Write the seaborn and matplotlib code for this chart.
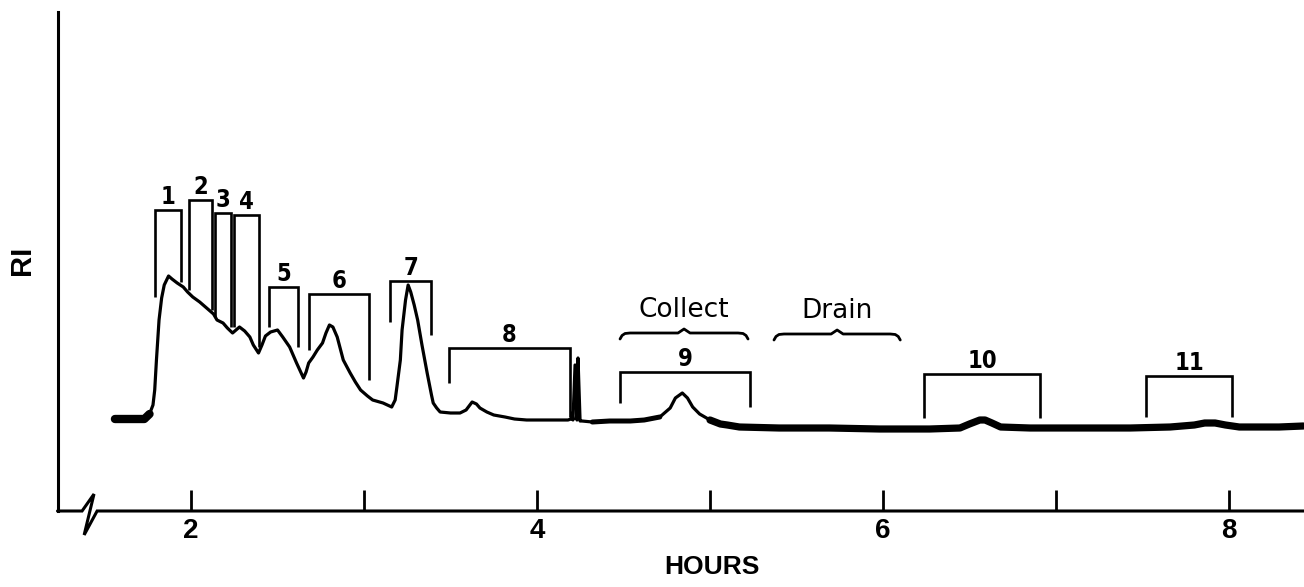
import numpy as np
import pandas as pd
import matplotlib
matplotlib.use("Agg")
import matplotlib.pyplot as plt
import matplotlib.transforms as mtransforms
from matplotlib import font_manager
import seaborn as sns

# Refractive-index detector trace: elapsed time (hours) and response (arbitrary units)
hours = [1.56, 1.65, 1.73, 1.76, 1.78, 1.79, 1.80, 1.815, 1.83, 1.845,
         1.87, 1.89, 1.92, 1.955, 1.98, 2.01, 2.05, 2.09, 2.13, 2.15,
         2.185, 2.21, 2.24, 2.26, 2.28, 2.31, 2.34, 2.36, 2.39, 2.41,
         2.43, 2.46, 2.50, 2.53, 2.57, 2.61, 2.65, 2.665, 2.68, 2.705,
         2.73, 2.76, 2.78, 2.80, 2.82, 2.845, 2.88, 2.92, 2.95, 2.98,
         3.02, 3.05, 3.11, 3.16, 3.18, 3.19, 3.21, 3.22, 3.24, 3.255,
         3.27, 3.29, 3.31, 3.335, 3.365, 3.39, 3.40, 3.42, 3.44, 3.50,
         3.555, 3.59, 3.625, 3.65, 3.67, 3.71, 3.75, 3.815, 3.87, 3.94,
         4.05, 4.13, 4.179, 4.197, 4.202, 4.208, 4.220, 4.231, 4.237, 4.249,
         4.260, 4.32, 4.42, 4.54, 4.62, 4.71, 4.77, 4.80, 4.84, 4.87,
         4.90, 4.94, 5.00, 5.06, 5.10, 5.17, 5.40, 5.69, 5.98, 6.27,
         6.445, 6.50, 6.56, 6.59, 6.63, 6.68, 6.85, 7.14, 7.43, 7.66,
         7.80, 7.86, 7.92, 7.98, 8.06, 8.29, 8.43]
ri = [92, 92, 92, 97, 106, 121, 151, 191, 213, 226,
      235, 232, 228, 224, 219, 214, 209, 203, 197, 191,
      188, 183, 178, 181, 184, 180, 174, 166, 158, 166,
      175, 179, 181, 174, 164, 148, 133, 139, 148, 154,
      161, 168, 178, 186, 184, 174, 151, 138, 129, 121,
      115, 111, 108, 104, 111, 124, 151, 181, 211, 226,
      219, 206, 191, 166, 138, 116, 108, 103, 99, 98,
      98, 101, 109, 107, 103, 99, 96, 94, 92, 91,
      91, 91, 91, 92, 98, 91, 146, 91, 153, 90,
      90, 89, 90, 90, 91, 94, 103, 113, 118, 113,
      104, 97, 91, 87, 86, 84, 83, 83, 82, 82,
      83, 87, 91, 91, 88, 84, 83, 83, 83, 84,
      86, 88, 88, 86, 84, 84, 85]

# Stretches where the recorder baseline is noisy (drawn as a heavier band)
noisy_ranges = [(1.55, 1.765), (4.30, 4.74), (4.95, 8.45)]
noisy_widths = [6.0, 3.6, 5.2]

# Collected fractions: bracket span (hours), bracket top and foot of each leg
fraction_labels = ["1", "2", "3", "4", "5", "6", "7", "8", "9", "10", "11"]
fraction_start = [1.79, 1.99, 2.14, 2.25, 2.45, 2.68, 3.15, 3.49, 4.48, 6.24, 7.52]
fraction_end = [1.94, 2.12, 2.23, 2.39, 2.62, 3.03, 3.39, 4.19, 5.23, 6.91, 8.02]
fraction_top = [301, 311, 298, 296, 224, 217, 230, 163, 139, 137, 135]
fraction_left_foot = [214, 221, 194, 184, 184, 161, 189, 128, 108, 93, 94]
fraction_right_foot = [229, 201, 184, 164, 164, 131, 176, 94, 104, 93, 94]

# Operating phases marked with braces
phase_labels = ["Collect", "Drain"]
phase_start = [4.48, 5.37]
phase_end = [5.22, 6.10]
phase_level = [178, 177]

tick_hours = [2, 3, 4, 5, 6, 7, 8]
tick_labels = ["2", "", "4", "", "6", "", "8"]

X_MIN, X_MAX = 1.228, 8.434
Y_MAX = 499

sns.set_theme(style="white")
plt.rcParams["font.family"] = ["Liberation Sans", "DejaVu Sans"]
plt.rcParams["text.color"] = "black"
plt.rcParams["xtick.color"] = "black"
plt.rcParams["xtick.labelcolor"] = "black"
plt.rcParams["axes.labelcolor"] = "black"

# Narrow bold face for the fraction numbers, if one is installed
narrow = None
for f in font_manager.fontManager.ttflist:
    if f.weight in (700, "bold") and f.stretch in ("condensed", "semi-condensed", 75, 87.5) \
            and ("Sans" in f.name):
        narrow = f.fname
        break
if narrow is not None:
    num_props = font_manager.FontProperties(fname=narrow, size=17)
else:
    num_props = font_manager.FontProperties(family="Liberation Sans", weight="bold", size=16)

W, H = 1304, 587
fig = plt.figure(figsize=(W / 100, H / 100), dpi=100)
ax = fig.add_axes([57.5 / W, 76 / H, (W - 57.5) / W, 499 / H])

trace = pd.DataFrame({"hours": hours, "ri": ri})
sns.lineplot(data=trace, x="hours", y="ri", ax=ax, color="black", lw=2.3,
             estimator=None, sort=False)
for (lo, hi), lw in zip(noisy_ranges, noisy_widths):
    seg = trace[(trace["hours"] >= lo) & (trace["hours"] <= hi)]
    ax.plot(seg["hours"], seg["ri"], color="black", lw=lw,
            solid_capstyle="round", solid_joinstyle="round")

# Fraction brackets with their numbers
for lab, s, e, top, lf, rf in zip(fraction_labels, fraction_start, fraction_end,
                                  fraction_top, fraction_left_foot, fraction_right_foot):
    ax.plot([s, s, e, e], [lf, top, top, rf], color="black", lw=1.9,
            solid_joinstyle="miter", solid_capstyle="butt")
    ax.annotate(lab, xy=((s + e) / 2, top), xytext=(0, 4), textcoords="offset points",
                ha="center", va="baseline", fontproperties=num_props, color="black")

# Curly braces for the collect / drain phases
px_h = 1 / 173.0  # one pixel in hours
for lab, s, e, lev in zip(phase_labels, phase_start, phase_end, phase_level):
    m = (s + e) / 2
    bx = [s, s + 2 * px_h, s + 5 * px_h, s + 10 * px_h, m - 6 * px_h, m, m + 6 * px_h,
          e - 10 * px_h, e - 5 * px_h, e - 2 * px_h, e]
    by = [lev - 6, lev - 2.5, lev - 0.5, lev, lev, lev + 4, lev,
          lev, lev - 0.5, lev - 2.5, lev - 6]
    ax.plot(bx, by, color="black", lw=2.0, solid_capstyle="round", solid_joinstyle="round")
    ax.annotate(lab, xy=(m, lev), xytext=(0, 11.5), textcoords="offset points",
                ha="center", va="baseline", fontsize=19, family="DejaVu Sans",
                color="black")

# Axes frame
ax.set_xlim(X_MIN, X_MAX)
ax.set_ylim(0, Y_MAX)
for side in ("top", "right", "bottom"):
    ax.spines[side].set_visible(False)
ax.spines["left"].set_color("black")
ax.spines["left"].set_linewidth(2.2)
ax.set_yticks([])
ax.set_xticks(tick_hours)
ax.set_xticklabels(tick_labels)
ax.tick_params(axis="x", direction="in", length=15, width=2, color="black",
               labelcolor="black", pad=5, labelsize=20, bottom=True)
for t in ax.get_xticklabels():
    t.set_fontweight("bold")
ax.set_xlabel("")
ax.set_ylabel("")

# Time axis with a break near its origin
trans = mtransforms.blended_transform_factory(ax.transData, ax.transAxes)
ax.plot([X_MIN, 1.370, 1.439, 1.382, 1.457, X_MAX],
        [0, 0, 0.034, -0.048, 0, 0],
        transform=trans, color="black", lw=2.2, clip_on=False,
        solid_joinstyle="miter")

fig.text(712 / W, 1 - 567 / H, "HOURS", ha="center", va="center",
         fontsize=19, fontweight="bold", color="black")
fig.text(22 / W, 1 - 260 / H, "RI", ha="center", va="center", rotation=90,
         fontsize=21, fontweight="bold", color="black")

fig.savefig("out.png", dpi=100, facecolor="white")
